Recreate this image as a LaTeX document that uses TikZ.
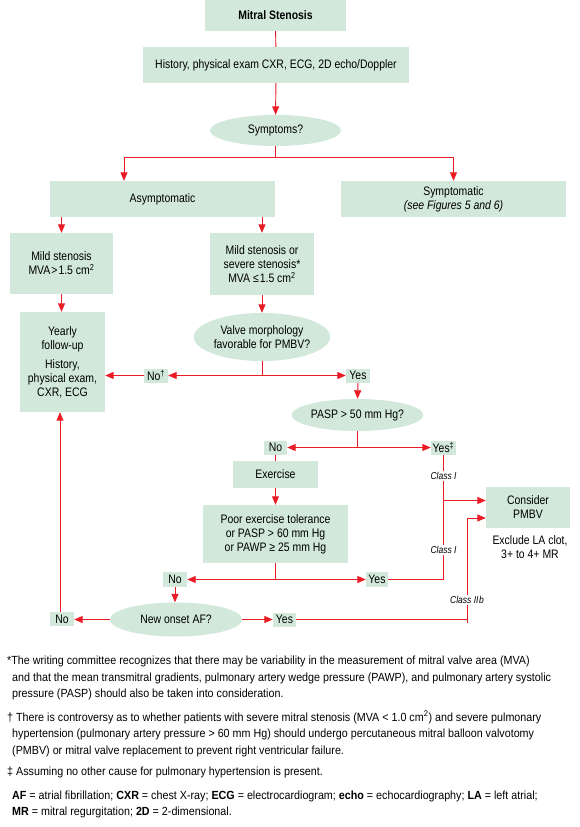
\documentclass[tikz,border=0pt]{standalone}
\usepackage{fontspec}
\setmainfont{Liberation Sans}[FakeStretch=0.85]
\newfontfamily\notefam{Liberation Sans}[FakeStretch=0.91]
\usetikzlibrary{shapes.geometric,arrows.meta}
\definecolor{boxg}{RGB}{209,232,218}
\definecolor{lred}{RGB}{234,28,38}
\newcommand\flowfont{\fontsize{12.3}{14}\selectfont}
\newcommand\notefont{\notefam\fontsize{11.8}{14}\selectfont}
\newcommand\classfont{\fontsize{10}{12}\selectfont\itshape}
\begin{document}
\begin{tikzpicture}[x=1pt,y=-1pt,
  box/.style={fill=boxg, inner sep=0pt, align=center, font=\flowfont},
  oval/.style={ellipse, fill=boxg, inner sep=0pt, align=center, font=\flowfont},
  conn/.style={draw=lred, line width=0.95pt},
  arr/.style={conn, -{Triangle[length=8.5pt,width=7pt]}},
  cls/.style={fill=white, inner sep=1pt, font=\classfont},
  note/.style={anchor=base west, inner sep=0pt, font=\notefont}]
\useasboundingbox (0,0) rectangle (580,827);

% nodes
\node[box, minimum width=141pt, minimum height=31pt] (ms) at (275.5,15.5) {\textbf{Mitral Stenosis}};
\node[box, minimum width=266pt, minimum height=36pt] (hist) at (276,65) {History, physical exam CXR, ECG, 2D echo/Doppler};
\node[oval, minimum width=131pt, minimum height=31pt] (sym) at (275.5,130.5) {Symptoms?};
\node[box, minimum width=225pt, minimum height=36pt] (asym) at (162.5,199) {Asymptomatic};
\node[box, minimum width=225pt, minimum height=36pt] (symp) at (453.5,199) {Symptomatic\\\textit{(see Figures 5 and 6)}};
\node[box, minimum width=103pt, minimum height=61pt] (mild) at (61.5,263.5) {Mild stenosis\\MVA\kern1pt>\kern1pt1.5 cm\textsuperscript{2}};
\node[box, minimum width=104pt, minimum height=62pt] (mildsev) at (262,264) {Mild stenosis or\\severe stenosis*\\MVA ≤\kern1pt1.5 cm\textsuperscript{2}};
\node[box, minimum width=85pt, minimum height=100pt] (yearly) at (62.5,362) {Yearly\\follow-up\\[5pt]History,\\physical exam,\\CXR, ECG};
\node[oval, minimum width=124pt, minimum height=48pt] (valve) at (262,337) {Valve morphology\\favorable for PMBV?};
\node[box, minimum width=24pt, minimum height=14pt] (no1) at (156,375.5) {No\textsuperscript{†}};
\node[box, minimum width=24pt, minimum height=14pt] (yes1) at (358,375.5) {Yes};
\node[oval, minimum width=131pt, minimum height=32pt] (pasp) at (357.5,415) {PASP > 50 mm Hg?};
\node[box, minimum width=23pt, minimum height=14pt] (no2) at (275.5,447.5) {No};
\node[box, minimum width=25pt, minimum height=14pt] (yes2) at (443.5,447.5) {Yes\textsuperscript{‡}};
\node[box, minimum width=85pt, minimum height=27pt] (exer) at (275.5,474.5) {Exercise};
\node[box, minimum width=145pt, minimum height=58pt] (poor) at (275.5,534) {Poor exercise tolerance\\or PASP > 60 mm Hg\\or PAWP ≥ 25 mm Hg};
\node[box, minimum width=24pt, minimum height=15pt] (no3) at (175,579.5) {No};
\node[box, minimum width=22pt, minimum height=15pt] (yes3) at (377,579.5) {Yes};
\node[box, minimum width=84pt, minimum height=41pt] (pmbv) at (528,507.5) {Consider\\PMBV};
\node[align=center, inner sep=0pt, font=\flowfont] (excl) at (530,547.5) {Exclude LA clot,\\3+ to 4+ MR};
\node[oval, minimum width=132pt, minimum height=34pt] (af) at (176,619.5) {New onset AF?};
\node[box, minimum width=24pt, minimum height=14pt] (no4) at (62,619) {No};
\node[box, minimum width=23pt, minimum height=14pt] (yes4) at (284.5,619.5) {Yes};

% junctions
\coordinate (j1) at (275.5,157);
\coordinate (a1) at (124,157);
\coordinate (j2) at (262,375.5);
\coordinate (j3) at (357.5,447.5);
\coordinate (j4) at (275.5,579.5);
\coordinate (br) at (443.5,500.5);
\coordinate (cc) at (443.5,579.5);
\coordinate (dd) at (467,619.5);
\coordinate (dt) at (467,623);
\coordinate (ee) at (467,518);
\coordinate (nl) at (60,612);

% connectors
\draw[conn] (ms) -- (hist);
\draw[arr] (hist) -- (sym);
\draw[conn] (sym.south) -- (j1);
\draw[arr] (j1) -- (a1) -- (a1 |- asym.north);
\draw[arr] (j1) -| (symp.north);
\draw[arr] (mild.north |- asym.south) -- (mild.north);
\draw[arr] (mildsev.north |- asym.south) -- (mildsev.north);
\draw[arr] (mild.south) -- (mild.south |- yearly.north);
\draw[arr] (mildsev.south) -- (valve.north);
\draw[conn] (valve.south) -- (j2);
\draw[arr] (j2) -- (no1.east);
\draw[arr] (no1.west) -- (no1.west -| yearly.east);
\draw[arr] (j2) -- (yes1.west);
\draw[arr] (yes1.south) -- (pasp.north);
\draw[conn] (pasp.south) -- (j3);
\draw[arr] (j3) -- (no2.east);
\draw[arr] (j3) -- (yes2.west);
\draw[conn] (no2.south) -- (exer.north);
\draw[arr] (exer.south) -- (poor.north);
\draw[conn] (poor.south) -- (j4);
\draw[arr] (j4) -- (no3.east);
\draw[arr] (j4) -- (yes3.west);
\draw[arr] (no3.south) -- (no3.south |- af.north);
\draw[arr] (af.west) -- (af.west -| no4.east);
\draw[arr] (af.east) -- (yes4.west);
\draw[arr] (nl |- no4.north) -- (nl |- yearly.south);
\draw[conn] (yes2.south) -- (cc) -- (yes3.east);
\draw[arr] (br) -- (br -| pmbv.west);
\draw[conn] (yes4.east) -- (dd);
\draw[conn] (dt) -- (ee);
\draw[arr] (ee) -- (ee -| pmbv.west);

% class labels
\node[cls] (c1) at (443.5,476) {Class I};
\node[cls] (c2) at (443.5,550) {Class I};
\node[cls] (c3) at (467,600) {Class II\kern0.5pt b};

% footnotes
\node[note] (f1) at (7,664.5) {*The writing committee recognizes that there may be variability in the measurement of mitral valve area (MVA)};
\node[note] (f2) at (12,681) {and that the mean transmitral gradients, pulmonary artery wedge pressure (PAWP), and pulmonary artery systolic};
\node[note] (f3) at (12,697.5) {pressure (PASP) should also be taken into consideration.};
\node[note] (f4) at (7,721) {† There is controversy as to whether patients with severe mitral stenosis (MVA < 1.0 cm\textsuperscript{2}) and severe pulmonary};
\node[note] (f5) at (12,737.5) {hypertension (pulmonary artery pressure > 60 mm Hg) should undergo percutaneous mitral balloon valvotomy};
\node[note] (f6) at (12,754) {(PMBV) or mitral valve replacement to prevent right ventricular failure.};
\node[note] (f7) at (7,775) {‡ Assuming no other cause for pulmonary hypertension is present.};
\node[note] (f8) at (12,799) {\textbf{AF} = atrial fibrillation; \textbf{CXR} = chest X-ray; \textbf{ECG} = electrocardiogram; \textbf{echo} = echocardiography; \textbf{LA} = left atrial;};
\node[note] (f9) at (12,815.5) {\textbf{MR} = mitral regurgitation; \textbf{2D} = 2-dimensional.};
\end{tikzpicture}
\end{document}
